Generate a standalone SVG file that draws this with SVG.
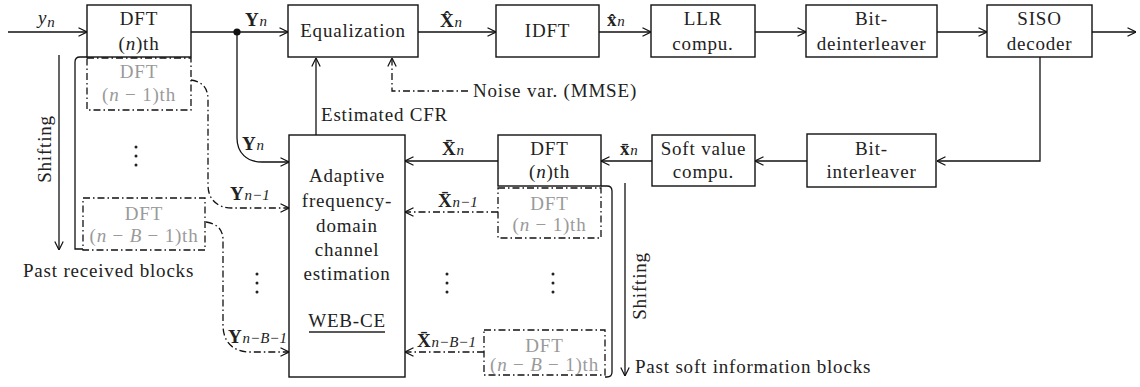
<svg xmlns="http://www.w3.org/2000/svg" width="1140" height="387" viewBox="0 0 1140 387">
  <defs>
    <marker id="arr" viewBox="0 0 10 10" refX="10" refY="5" markerWidth="10" markerHeight="10" markerUnits="userSpaceOnUse" orient="auto">
      <path d="M1.5,0.8 L10,5 L1.5,9.2" fill="none" stroke="#111" stroke-width="1.2"/>
    </marker>
    <style>
      text { font-family: "Liberation Serif", "Times New Roman", serif; font-size: 19px; letter-spacing: 0.8px; fill: #222; }
      .c { text-anchor: middle; }
      .g { fill: #9a9a9a; }
      .box { fill: #fff; stroke: #111; stroke-width: 1.4; }
      .dbox { fill: none; stroke: #111; stroke-width: 1.3; stroke-dasharray: 7 3 1.5 3; }
      .ln { fill: none; stroke: #111; stroke-width: 1.3; }
      .dl { fill: none; stroke: #111; stroke-width: 1.3; stroke-dasharray: 7 3 1.5 3; }
      .a { marker-end: url(#arr); }
      .b { font-weight: bold; }
      .i { font-style: italic; }
      .s { font-size: 15px; font-style: italic; letter-spacing: 0; }
    </style>
  </defs>

  <!-- connectors -->
  <g id="connectors">
    <path class="ln a" d="M8,32 H87"/>
    <path class="ln a" d="M191,32 H288"/>
    <circle cx="237" cy="32" r="3.6" fill="#111"/>
    <path class="ln a" d="M418,32 H496"/>
    <path class="ln a" d="M599,32 H651"/>
    <path class="ln a" d="M755,32 H806"/>
    <path class="ln a" d="M937,32 H987"/>
    <path class="ln a" d="M1092,32 H1136"/>
    <path class="ln a" d="M1040,57 V161 H937"/>
    <path class="ln a" d="M807,161 H755"/>
    <path class="ln a" d="M652,161 H601"/>
    <path class="ln a" d="M498,161 H405"/>
    <path class="ln a" d="M316,135 V58"/>
    <path class="dl a" d="M468,91 H392 V58"/>
    <path class="ln a" d="M237,32 V138 C237,153 247,162 262,162 H289"/>
    <path class="dl a" d="M191,80 C203,82 208,88 208,100 V185 C208,200 218,208 232,208 H289"/>
    <path class="dl a" d="M206,222 C218,224 223,230 223,240 V325 C223,342 233,352 250,352 H289"/>
    <path class="dl a" d="M498,212 H405"/>
    <path class="dl a" d="M484,352 H405"/>
    <!-- shift brackets and arrows -->
    <path class="ln" d="M87,57 H80 Q75,57 75,62 V249 H83"/>
    <path class="ln" d="M601,186 H607 Q612,186 612,191 V372 Q612,377 607,377 H605"/>
    <path class="ln a" d="M59,55 V250"/>
    <path class="ln a" d="M625,183 V376"/>
  </g>

  <!-- transmit chain, top row -->
  <g id="dft-n">
    <rect class="box" x="87" y="5" width="104" height="52"/>
    <text class="c" x="139" y="25">DFT</text>
    <text class="c" x="139" y="50">(<tspan class="i">n</tspan>)th</text>
  </g>
  <g id="equalization">
    <rect class="box" x="288" y="5" width="130" height="52"/>
    <text class="c" x="353" y="37">Equalization</text>
  </g>
  <g id="idft">
    <rect class="box" x="496" y="5" width="103" height="52"/>
    <text class="c" x="547.5" y="37">IDFT</text>
  </g>
  <g id="llr">
    <rect class="box" x="651" y="5" width="104" height="52"/>
    <text class="c" x="703" y="25">LLR</text>
    <text class="c" x="703" y="50">compu.</text>
  </g>
  <g id="bit-deinterleaver">
    <rect class="box" x="806" y="5" width="131" height="52"/>
    <text class="c" x="871.5" y="25">Bit-</text>
    <text class="c" x="871.5" y="50">deinterleaver</text>
  </g>
  <g id="siso">
    <rect class="box" x="987" y="5" width="105" height="52"/>
    <text class="c" x="1039.5" y="25">SISO</text>
    <text class="c" x="1039.5" y="50">decoder</text>
  </g>

  <!-- feedback chain, lower row -->
  <g id="bit-interleaver">
    <rect class="box" x="807" y="134" width="129" height="53"/>
    <text class="c" x="871.5" y="155">Bit-</text>
    <text class="c" x="871.5" y="178">interleaver</text>
  </g>
  <g id="soft-value">
    <rect class="box" x="652" y="135" width="103" height="51"/>
    <text class="c" x="703.5" y="155">Soft value</text>
    <text class="c" x="703.5" y="178">compu.</text>
  </g>
  <g id="dft-soft-n">
    <rect class="box" x="498" y="135" width="103" height="51"/>
    <text class="c" x="549.5" y="155">DFT</text>
    <text class="c" x="549.5" y="178">(<tspan class="i">n</tspan>)th</text>
  </g>
  <g id="web-ce">
    <rect class="box" x="289" y="135" width="116" height="242"/>
    <text class="c" x="347" y="182">Adaptive</text>
    <text class="c" x="347" y="207">frequency-</text>
    <text class="c" x="347" y="232">domain</text>
    <text class="c" x="347" y="256">channel</text>
    <text class="c" x="347" y="280">estimation</text>
    <text class="c" x="347" y="327">WEB-CE</text>
    <line x1="309" y1="332" x2="385" y2="332" stroke="#222" stroke-width="1.3"/>
  </g>

  <!-- stored past blocks -->
  <g id="dft-rx-n1">
    <rect class="dbox" x="87" y="58" width="104" height="52"/>
    <text class="c g" x="139" y="78">DFT</text>
    <text class="c g" x="139" y="101">(<tspan class="i">n</tspan> − 1)th</text>
  </g>
  <g id="dft-rx-nb1">
    <rect class="dbox" x="83" y="198" width="122" height="52"/>
    <text class="c g" x="144" y="220">DFT</text>
    <text class="c g" x="144" y="242">(<tspan class="i">n</tspan> − <tspan class="i">B</tspan> − 1)th</text>
  </g>
  <g id="dft-soft-n1">
    <rect class="dbox" x="498" y="188" width="103" height="50"/>
    <text class="c g" x="549.5" y="210">DFT</text>
    <text class="c g" x="549.5" y="231">(<tspan class="i">n</tspan> − 1)th</text>
  </g>
  <g id="dft-soft-nb1">
    <rect class="dbox" x="484" y="330" width="121" height="45"/>
    <text class="c g" x="544.5" y="352">DFT</text>
    <text class="c g" x="544.5" y="371">(<tspan class="i">n</tspan> − <tspan class="i">B</tspan> − 1)th</text>
  </g>

  <!-- ellipses -->
  <g id="dots" fill="#222">
    <circle cx="136" cy="147" r="1.5"/><circle cx="136" cy="156" r="1.5"/><circle cx="136" cy="165" r="1.5"/>
    <circle cx="257" cy="274" r="1.5"/><circle cx="257" cy="283" r="1.5"/><circle cx="257" cy="292" r="1.5"/>
    <circle cx="447" cy="274" r="1.5"/><circle cx="447" cy="283" r="1.5"/><circle cx="447" cy="292" r="1.5"/>
    <circle cx="553" cy="274" r="1.5"/><circle cx="553" cy="283" r="1.5"/><circle cx="553" cy="292" r="1.5"/>
  </g>

  <!-- signal labels -->
  <g id="labels">
    <text class="i" x="38" y="24">y<tspan class="s" dy="3">n</tspan></text>
    <text x="245" y="26"><tspan class="b">Y</tspan><tspan class="s">n</tspan></text>
    <text x="440" y="27"><tspan class="b">X̂</tspan><tspan class="s">n</tspan></text>
    <text x="607" y="26"><tspan class="b">x̂</tspan><tspan class="s">n</tspan></text>
    <text x="321" y="121">Estimated CFR</text>
    <text x="473" y="97">Noise var. (MMSE)</text>
    <text x="242" y="150"><tspan class="b">Y</tspan><tspan class="s">n</tspan></text>
    <text x="230" y="200"><tspan class="b">Y</tspan><tspan class="s">n</tspan><tspan class="s" font-style="normal">−1</tspan></text>
    <text x="228" y="343"><tspan class="b">Y</tspan><tspan class="s">n</tspan><tspan class="s" font-style="normal">−</tspan><tspan class="s">B</tspan><tspan class="s" font-style="normal">−1</tspan></text>
    <text x="442" y="155"><tspan class="b">X̄</tspan><tspan class="s">n</tspan></text>
    <text x="438" y="207"><tspan class="b">X̄</tspan><tspan class="s">n</tspan><tspan class="s" font-style="normal">−1</tspan></text>
    <text x="417" y="347"><tspan class="b">X̄</tspan><tspan class="s">n</tspan><tspan class="s" font-style="normal">−</tspan><tspan class="s">B</tspan><tspan class="s" font-style="normal">−1</tspan></text>
    <text x="620" y="155"><tspan class="b">x̄</tspan><tspan class="s">n</tspan></text>
    <text x="23" y="277">Past received blocks</text>
    <text x="635" y="373">Past soft information blocks</text>
    <text class="c" transform="translate(51,149) rotate(-90)">Shifting</text>
    <text class="c" transform="translate(646,286) rotate(-90)">Shifting</text>
  </g>
</svg>
